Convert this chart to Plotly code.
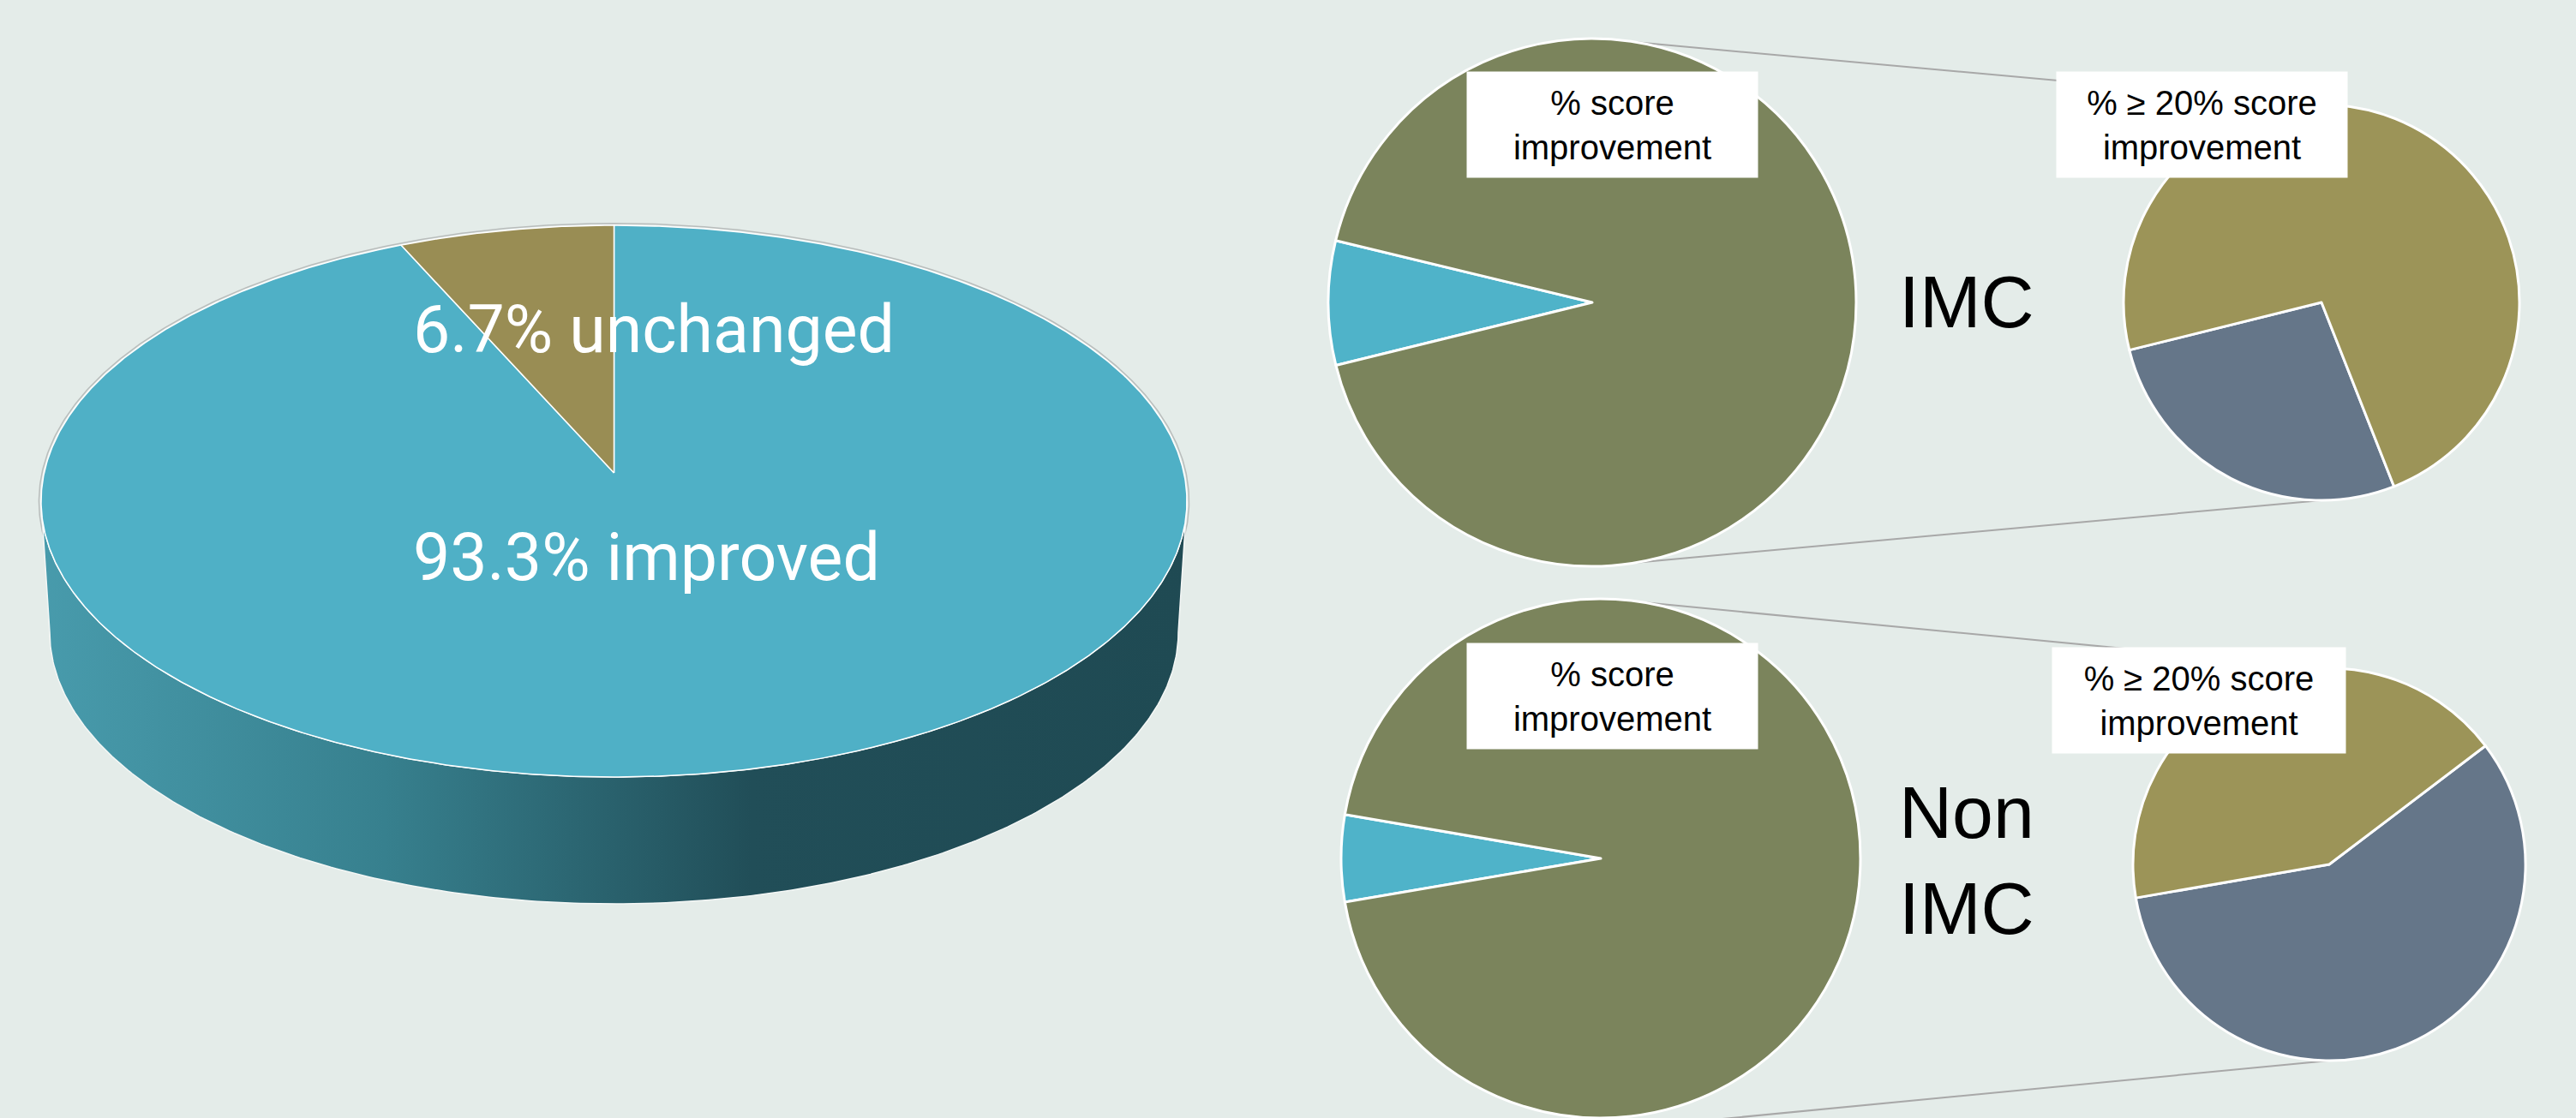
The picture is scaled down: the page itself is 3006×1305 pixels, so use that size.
import numpy as np
import plotly.graph_objects as go

W, H = 3006, 1305

# ---------------- data ----------------
overall_labels = ["improved", "unchanged"]
overall_values = [93.3, 6.7]
overall_text = ["93.3% improved", "6.7% unchanged"]

score_labels = ["unchanged", "score improved"]
imc_score = [7.6, 92.4]
non_imc_score = [5.4, 94.6]

twenty_labels = ["< 20% improvement", "≥ 20% improvement"]
imc_twenty = [27.1, 72.9]
non_imc_twenty = [57.6, 42.4]

group_names = ["IMC", "Non<br>IMC"]
box_left_text = "% score<br>improvement"
box_right_text = "% ≥ 20% score<br>improvement"

# ---------------- styles ----------------
BG = "#E4ECE9"
TEAL = "#4FB0C6"
OLIVE_MAIN = "#998D54"
GREEN = "#7B845C"
TEAL_S = "#4FB3C9"
OLIVE_S = "#9C9458"
SLATE = "#657689"
FONT_BIG = "Roboto, sans-serif"
FONT = "Liberation Sans, Arial, sans-serif"

fig = go.Figure()

# ---------- main 3D pie (perspective projection of a disk) ----------
CX, CY = 716.5, 552.0
A, B, K = 665.0, 318.6, 0.1025
BOT_CY, BOT_S = 705.4, 0.985


def proj(phi_deg, cy, a, b):
    p = np.radians(phi_deg)
    u, v = np.sin(p), np.cos(p)
    w = 1 + K * v
    return CX + a * u / w, cy - b * v / w


# faint grey outer rim behind the top face
rim = np.linspace(0, 360, 721)
rx, ry = proj(rim, CY, A + 2.5, B + 2.5)
fig.add_trace(go.Scatter(x=rx, y=ry, mode="lines", line=dict(color="#B9BDBC", width=1.5),
                         hoverinfo="skip", showlegend=False))

phi_e = np.degrees(np.arccos(-K))  # side silhouette extremes
front = np.linspace(phi_e, 360 - phi_e, 300)
tx, ty = proj(front, CY, A, B)
bx, by = proj(front[::-1], BOT_CY, A * BOT_S, B * BOT_S)
fig.add_trace(go.Scatter(
    x=np.concatenate([tx, bx, tx[:1]]), y=np.concatenate([ty, by, ty[:1]]),
    mode="lines", fill="toself",
    fillgradient=dict(type="horizontal",
                      colorscale=[[0, "#489BAC"], [0.3, "#37808E"], [0.62, "#214E58"], [1, "#1F4A53"]]),
    line=dict(color="#F4F7F6", width=1.5), hoverinfo="skip", showlegend=False))

main_colors = [TEAL, OLIVE_MAIN]
tot = sum(overall_values)
start = 0.0
for lab, val, col in zip(overall_labels, overall_values, main_colors):
    end = start + 360 * val / tot
    ph = np.linspace(start, end, max(int(end - start) * 3, 20))
    ax, ay = proj(ph, CY, A, B)
    fig.add_trace(go.Scatter(
        x=np.concatenate([[CX], ax, [CX]]), y=np.concatenate([[CY], ay, [CY]]),
        mode="lines", fill="toself", fillcolor=col,
        line=dict(color="white", width=1.5),
        name=lab, text=f"{lab}: {val}%", hoverinfo="text", showlegend=False))
    start = end

# main labels
fig.add_annotation(x=480, y=385, xref="x", yref="y", text=overall_text[1], showarrow=False,
                   xanchor="left", yanchor="middle", font=dict(family=FONT_BIG, size=77, color="white"))
fig.add_annotation(x=480, y=651, xref="x", yref="y", text=overall_text[0], showarrow=False,
                   xanchor="left", yanchor="middle", font=dict(family=FONT_BIG, size=77, color="white"))

# ---------- small pies ----------
def dom(x0, x1, y0, y1):
    return dict(x=[max(x0 / W, 0), min(x1 / W, 1)], y=[max(1 - y1 / H, 0), min(1 - y0 / H, 1)])


pies = [
    # (labels, values, colors, rotation, center, radius)
    (score_labels, imc_score, [TEAL_S, GREEN], 256.2, (1858, 353), 308),
    (twenty_labels, imc_twenty, [SLATE, OLIVE_S], 158.5, (2709, 353), 231),
    (score_labels, non_imc_score, [TEAL_S, GREEN], 260.3, (1868, 1002), 303),
    (twenty_labels, non_imc_twenty, [SLATE, OLIVE_S], 52.8, (2718, 1009), 229),
]
for labels, vals, cols, rot, (cx, cy), r in pies:
    fig.add_trace(go.Pie(
        labels=labels, values=vals, sort=False, direction="clockwise", rotation=rot,
        marker=dict(colors=cols, line=dict(color="white", width=3)),
        textinfo="none", hoverinfo="label+value", showlegend=False,
        domain=dom(cx - r, cx + r, cy - r, cy + r)))

# connector lines between paired pies
for (lc, lr), (rc, rr) in [(((1858, 353), 308), ((2709, 353), 231)),
                           (((1868, 1009), 310), ((2718, 1009), 229))]:
    for ang, sgn in [(9.6, -1), (170.4, 1)]:
        a = np.radians(ang)
        x0, y0 = lc[0] + lr * np.sin(a), lc[1] - lr * np.cos(a)
        x1, y1 = rc[0], rc[1] + sgn * rr
        fig.add_shape(type="line", xref="x", yref="y", x0=x0, y0=y0, x1=x1, y1=y1,
                      line=dict(color="#A8A8A8", width=2), layer="below")

# label boxes
for (x0, x1, y0, y1), txt in [((1712, 2051, 84, 207), box_left_text),
                              ((2400, 2739, 84, 207), box_right_text),
                              ((1712, 2051, 751, 874), box_left_text),
                              ((2395, 2737, 756, 879), box_right_text)]:
    fig.add_annotation(x=(x0 + x1) / 2, y=(y0 + y1) / 2, xref="x", yref="y", text=txt,
                       showarrow=False, xanchor="center", yanchor="middle",
                       width=x1 - x0, height=y1 - y0, bgcolor="white", borderpad=0,
                       align="center", valign="middle",
                       font=dict(family=FONT, size=40, color="black"))

# group names
fig.add_annotation(x=2214, y=352, xref="x", yref="y", text=group_names[0], showarrow=False,
                   xanchor="left", yanchor="middle", align="left",
                   font=dict(family=FONT, size=86, color="black"))
fig.add_annotation(x=2214, y=1004, xref="x", yref="y", text=group_names[1], showarrow=False,
                   xanchor="left", yanchor="middle", align="left",
                   font=dict(family=FONT, size=86, color="black"))

fig.update_layout(
    width=W, height=H, margin=dict(l=0, r=0, t=0, b=0),
    paper_bgcolor=BG, plot_bgcolor=BG, showlegend=False,
    xaxis=dict(range=[0, W], visible=False, fixedrange=True),
    yaxis=dict(range=[H, 0], visible=False, fixedrange=True),
)

fig.write_html(
    "out.html",
    config={"displayModeBar": False},
    post_script="document.body.style.margin='0';document.body.style.background='#E4ECE9';"
                "document.documentElement.style.overflow='hidden';",
)
